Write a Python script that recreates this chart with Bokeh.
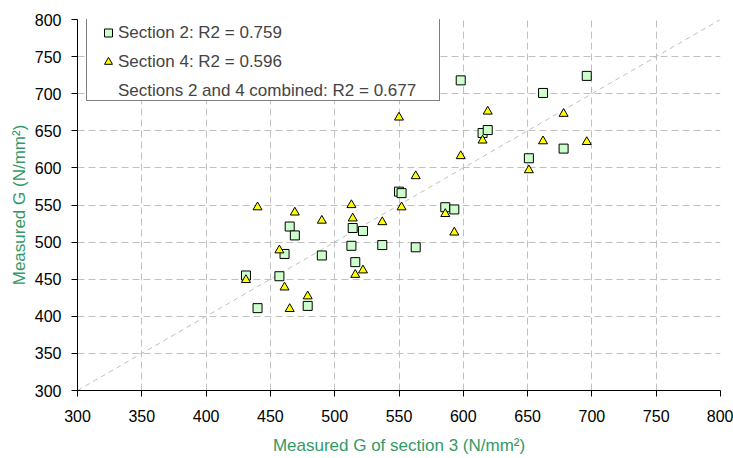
from bokeh.plotting import figure
from bokeh.models import Legend, LegendItem, FixedTicker, Range1d
from bokeh.embed import file_html
from bokeh.resources import INLINE

# Measured G of section 3 (shared x values)
section3 = [431, 440, 457, 461, 465, 469, 479, 490, 513, 514, 516, 522, 537,
            550, 552, 563, 586, 593, 598, 615, 619, 651, 662, 678, 696]
# Measured G of section 2
section2 = [455, 411, 454, 484, 521, 509, 414, 482, 495, 519, 473, 515, 496,
            568, 566, 493, 547, 544, 718, 647, 651, 613, 701, 626, 724]
# Measured G of section 4
section4 = [449, 547, 489, 439, 410, 540, 427, 529, 550, 532, 456, 462, 527,
            668, 547, 589, 538, 513, 616, 637, 676, 597, 636, 673, 635]

ticks = [300, 350, 400, 450, 500, 550, 600, 650, 700, 750, 800]
diag = [300, 800]

labels = ["Section 2: R2 = 0.759",
          "Section 4: R2 = 0.596",
          "Sections 2 and 4 combined: R2 = 0.677"]

FONT = "Liberation Sans"

p = figure(width=733, height=458,
           x_range=Range1d(300, 800), y_range=Range1d(300, 800),
           output_backend="svg", toolbar_location=None,
           min_border_left=77, min_border_right=13,
           min_border_top=19, min_border_bottom=68)
p.outline_line_color = None
p.background_fill_color = "white"
p.border_fill_color = "white"

for ax in (p.xaxis[0], p.yaxis[0]):
    ax.ticker = FixedTicker(ticks=ticks)
    ax.major_tick_out = 6
    ax.major_tick_in = 0
    ax.minor_tick_out = 0
    ax.minor_tick_in = 0
    ax.axis_line_color = "black"
    ax.major_tick_line_color = "black"
    ax.major_label_text_font = FONT
    ax.major_label_text_font_size = "16px"
    ax.major_label_text_color = "black"
    ax.axis_label_text_font = FONT
    ax.axis_label_text_font_size = "17px"
    ax.axis_label_text_font_style = "normal"
    ax.axis_label_text_color = "#339966"

p.xaxis.axis_label = "Measured G of section 3 (N/mm²)"
p.yaxis.axis_label = "Measured G (N/mm²)"
p.xaxis.major_label_standoff = 13
p.xaxis.axis_label_standoff = 11
p.yaxis.major_label_standoff = 10
p.yaxis.axis_label_standoff = 3

p.grid.grid_line_color = "#c0c0c0"
p.grid.grid_line_dash = "7 4"
p.grid.grid_line_width = 1

p.line(diag, diag, line_color="#c0c0c0", line_dash="5 4", line_width=1)

r2 = p.scatter(section3, section2, marker="square", size=9,
               fill_color="#ccffcc", line_color="black", line_width=1)
r4 = p.scatter(section3, section4, marker="triangle", size=9,
               fill_color="#ffff00", line_color="black", line_width=1)
rc = p.scatter([], [], marker="square", size=9, fill_alpha=0, line_alpha=0)

# legend frame (white box with black border)
box = Legend(items=[LegendItem(label=" ", renderers=[rc])],
             location=(9, 289), padding=0, spacing=0, margin=0,
             glyph_width=352, glyph_height=87, label_standoff=0,
             label_width=0, label_height=0, label_text_font_size="1px",
             border_line_color="black", border_line_width=1,
             background_fill_color="white", background_fill_alpha=1)
p.add_layout(box)

legend = Legend(items=[LegendItem(label=labels[0], renderers=[r2]),
                       LegendItem(label=labels[1], renderers=[r4]),
                       LegendItem(label=labels[2], renderers=[rc])],
                location=(21, 289), padding=4, spacing=8, margin=0,
                glyph_width=20, glyph_height=21, label_standoff=0,
                label_height=21,
                label_text_font=FONT, label_text_font_size="17px",
                border_line_color=None,
                background_fill_alpha=0)
p.add_layout(legend)

open("out.html", "w").write(file_html(p, INLINE))
